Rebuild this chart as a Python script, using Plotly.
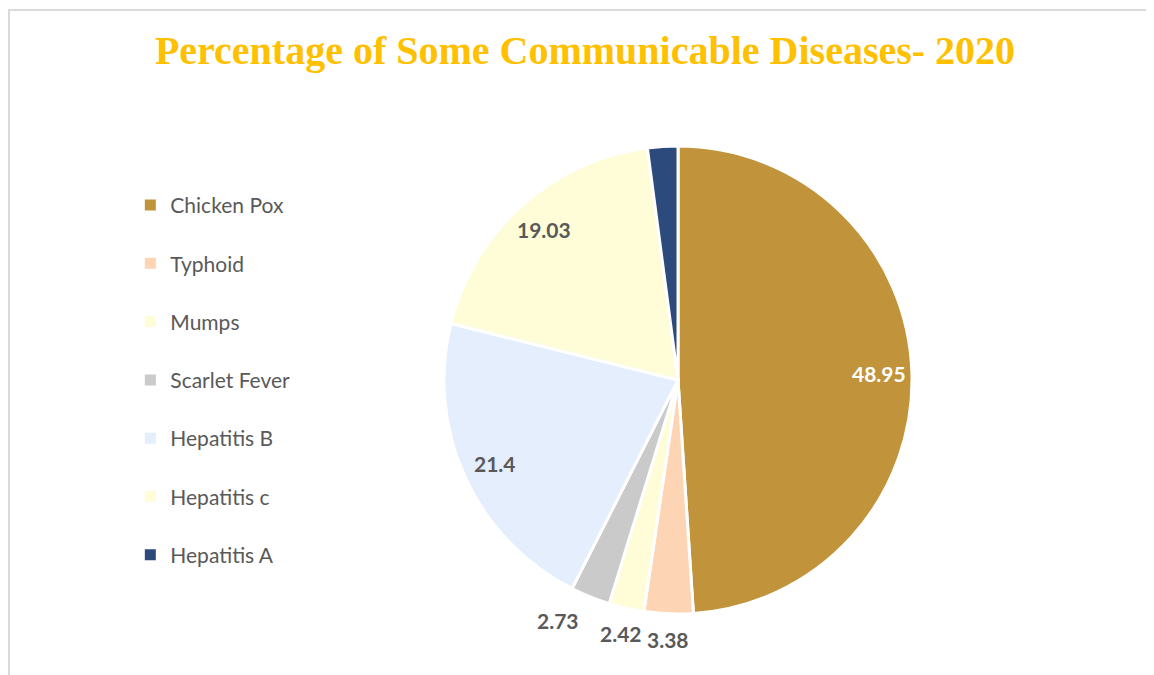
import math
import plotly.graph_objects as go

categories = ["Chicken Pox", "Typhoid", "Mumps", "Scarlet Fever", "Hepatitis B", "Hepatitis c", "Hepatitis A"]
values = [48.95, 3.38, 2.42, 2.73, 21.4, 19.03, 2.09]
label_text = ["48.95", "3.38", "2.42", "2.73", "21.4", "19.03", ""]
colors = ["#C1943C", "#FDD5B5", "#FEFDD8", "#CACACA", "#E4EEFC", "#FEFDD8", "#2D4A7D"]
label_inside = [True, False, False, False, True, True, True]
text_colors = ["#FFFFFF", "#595959", "#595959", "#595959", "#595959", "#595959", "#FFFFFF"]

W, H = 1154, 675
cx, cy, r = 670, 372, 234

fig = go.Figure()
fig.add_trace(go.Pie(
    labels=categories, values=values,
    textinfo="none",
    marker=dict(colors=colors, line=dict(color="#FFFFFF", width=3)),
    sort=False, direction="clockwise", rotation=0,
    showlegend=False, hoverinfo="label+value",
    domain=dict(x=[(cx - r) / W, (cx + r) / W], y=[(H - cy - r) / H, (H - cy + r) / H]),
    automargin=False,
))

# data labels placed at each slice's mid-angle (derived from the values)
total = sum(values)
annotations = []
cum = 0.0
for v, t, inside, col in zip(values, label_text, label_inside, text_colors):
    mid = (cum + v / 2) / total * 2 * math.pi
    cum += v
    if not t:
        continue
    rad = r * (0.86 if inside else 1.11)
    px = cx + rad * math.sin(mid)
    py = cy - rad * math.cos(mid)
    xa = "center"
    if not inside and math.sin(mid) < -0.3:
        xa = "right"
    annotations.append(dict(
        x=px / W, y=1 - py / H, xref="paper", yref="paper",
        text="<b>%s</b>" % t, showarrow=False,
        xanchor=xa, yanchor="middle",
        font=dict(family="Lato", size=21, color=col),
    ))

for name, col in zip(categories, colors):
    fig.add_trace(go.Scatter(
        x=[None], y=[None], mode="markers", name=name, legendgroup=name,
        marker=dict(symbol="square", size=11, color=col),
        showlegend=True,
    ))

fig.update_layout(
    width=W, height=H,
    margin=dict(l=0, r=0, t=0, b=0),
    paper_bgcolor="white", plot_bgcolor="white",
    title=dict(
        text="<b>Percentage of Some Communicable Diseases- 2020</b>",
        x=0.5, xanchor="center", y=0.938, yanchor="middle",
        font=dict(family="Liberation Serif", size=40, color="#FFC000"),
    ),
    xaxis=dict(visible=False), yaxis=dict(visible=False),
    legend=dict(
        x=0.106, xanchor="left", y=0.738, yanchor="top",
        font=dict(family="Lato", size=21, color="#595959"),
        tracegroupgap=28, itemwidth=30, bgcolor="rgba(0,0,0,0)",
    ),
    annotations=annotations,
    shapes=[dict(type="rect", xref="paper", yref="paper",
                 x0=1 / W, x1=1.01, y0=-0.01, y1=(H - 2) / H,
                 line=dict(color="#D9D9D9", width=2), layer="below")],
)

fig.write_html("out.html")
